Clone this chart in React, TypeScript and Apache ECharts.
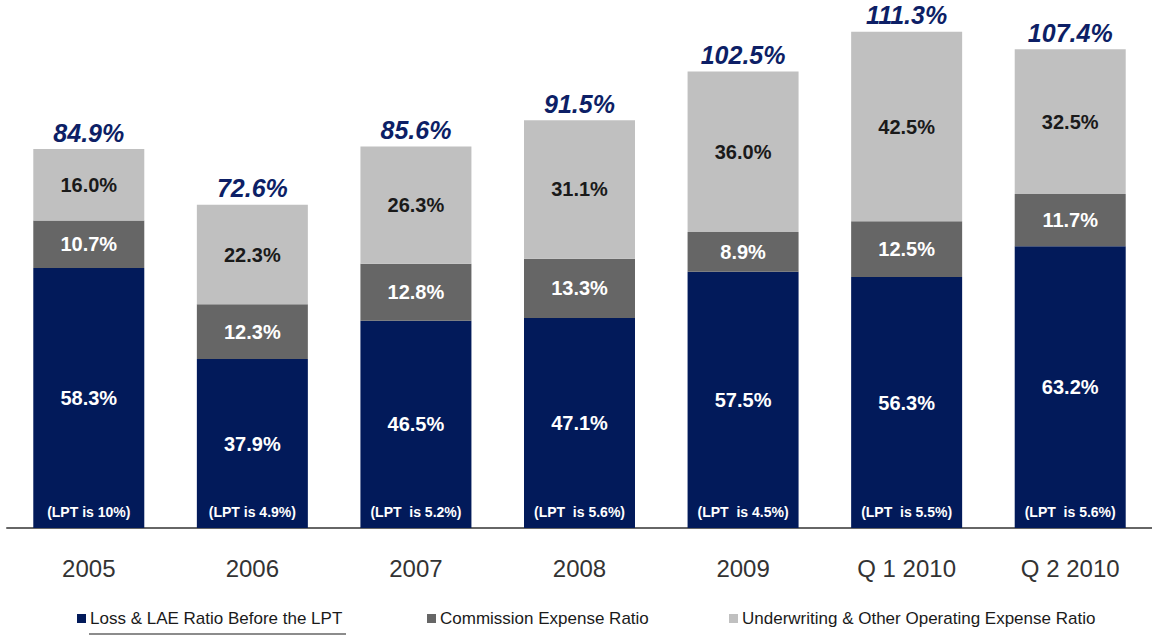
import React, { useEffect, useRef } from "react";
import * as echarts from "echarts";

const categories = ["2005", "2006", "2007", "2008", "2009", "Q 1 2010", "Q 2 2010"];
const lossRatio = [58.3, 37.9, 46.5, 47.1, 57.5, 56.3, 63.2];
const commissionRatio = [10.7, 12.3, 12.8, 13.3, 8.9, 12.5, 11.7];
const underwritingRatio = [16.0, 22.3, 26.3, 31.1, 36.0, 42.5, 32.5];
const totals = ["84.9%", "72.6%", "85.6%", "91.5%", "102.5%", "111.3%", "107.4%"];
const lptLabels = [
  "(LPT is 10%)",
  "(LPT is 4.9%)",
  "(LPT  is 5.2%)",
  "(LPT  is 5.6%)",
  "(LPT  is 4.5%)",
  "(LPT  is 5.5%)",
  "(LPT  is 5.6%)",
];
const seriesNames = [
  "Loss & LAE Ratio Before the LPT",
  "Commission Expense Ratio",
  "Underwriting & Other Operating Expense Ratio",
];

const NAVY = "#021a5a";
const MID = "#666666";
const LIGHT = "#c0c0c0";
const FONT = "Liberation Sans, Arial, sans-serif";
const NARROW = "Liberation Sans Narrow, Arial Narrow, Liberation Sans, sans-serif";

export default function App() {
  const ref = useRef<HTMLDivElement>(null);
  useEffect(() => {
    if (!ref.current) return;
    const chart = echarts.init(ref.current, undefined, { renderer: "svg" });
    const zeros = categories.map(() => 0);
    const legendBase = {
      bottom: 8,
      icon: "rect",
      itemWidth: 9,
      itemHeight: 9,
      itemGap: 4,
      textStyle: { fontFamily: NARROW, fontSize: 17, color: "#1a1a1a", padding: [0, 0, 0, -1] },
      selectedMode: false,
    };
    const innerLabel = (color: string) => ({
      show: true,
      position: "inside",
      formatter: (p: any) => p.value.toFixed(1) + "%",
      color,
      fontFamily: FONT,
      fontWeight: "bold",
      fontSize: 20,
    });
    chart.setOption({
      animation: false,
      grid: { left: 7, right: -6, top: 2, bottom: 112 },
      legend: [
        { ...legendBase, left: 72, data: [seriesNames[0]] },
        { ...legendBase, left: 422, data: [seriesNames[1]] },
        { ...legendBase, left: 724, data: [seriesNames[2]] },
      ],
      graphic: [
        {
          type: "line",
          shape: { x1: 89, y1: 634, x2: 346, y2: 634 },
          style: { stroke: "#1a1a1a", lineWidth: 1.2 },
        },
      ],
      xAxis: {
        type: "category",
        data: categories,
        axisLine: { lineStyle: { color: "#666666", width: 2 } },
        axisTick: { show: false },
        axisLabel: { fontFamily: FONT, fontSize: 24, color: "#333333", margin: 28 },
      },
      yAxis: { type: "value", min: 0, max: 118, show: false, splitLine: { show: false } },
      series: [
        {
          name: seriesNames[0],
          type: "bar",
          stack: "total",
          barWidth: 111,
          data: lossRatio,
          itemStyle: { color: NAVY },
          label: innerLabel("#ffffff"),
        },
        {
          name: seriesNames[1],
          type: "bar",
          stack: "total",
          barWidth: 111,
          data: commissionRatio,
          itemStyle: { color: MID },
          label: innerLabel("#ffffff"),
        },
        {
          name: seriesNames[2],
          type: "bar",
          stack: "total",
          barWidth: 111,
          data: underwritingRatio,
          itemStyle: { color: LIGHT },
          label: innerLabel("#1a1a1a"),
        },
        {
          name: "total",
          type: "bar",
          stack: "total",
          barWidth: 111,
          data: zeros,
          itemStyle: { color: "transparent" },
          label: {
            show: true,
            position: "top",
            distance: 4,
            formatter: (p: any) => totals[p.dataIndex],
            color: "#0d1f66",
            fontFamily: FONT,
            fontWeight: "bold",
            fontStyle: "italic",
            fontSize: 25,
          },
        },
        {
          name: "lpt",
          type: "bar",
          stack: "lpt",
          barWidth: 111,
          barGap: "-100%",
          data: zeros,
          itemStyle: { color: "transparent" },
          label: {
            show: true,
            position: "top",
            distance: 9,
            formatter: (p: any) => lptLabels[p.dataIndex],
            color: "#ffffff",
            fontFamily: FONT,
            fontWeight: "bold",
            fontSize: 14,
          },
        },
      ],
    });
    return () => chart.dispose();
  }, []);
  return (
    <div
      ref={ref}
      style={{ position: "fixed", left: 0, top: 0, width: 1152, height: 640, background: "#ffffff" }}
    />
  );
}
